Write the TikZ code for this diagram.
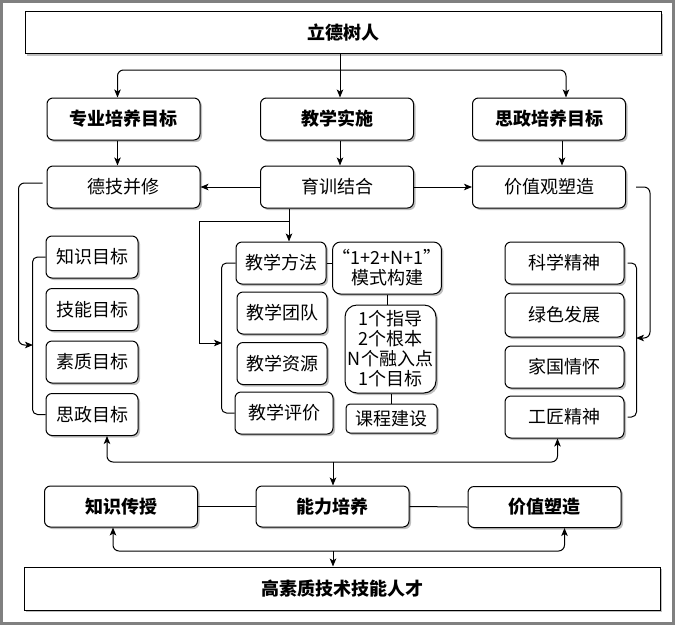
\documentclass[tikz,border=0pt]{standalone}
\usepackage{fontspec}
\setmainfont{Noto Sans CJK SC}
\usetikzlibrary{arrows.meta,shadows}
\tikzset{
  box/.style={draw, line width=1pt, fill=white, rounded corners=6pt, inner sep=0pt, align=center,
    drop shadow={shadow xshift=2pt, shadow yshift=-2pt, fill=black!25, opacity=1}},
  widebox/.style={box, rounded corners=0pt, font=\fontsize{18}{20}\selectfont\bfseries, minimum width=636pt, minimum height=42pt},
  headbox/.style={box, font=\fontsize{18}{20}\selectfont\bfseries, minimum width=153pt, minimum height=42pt},
  midbox/.style={box, minimum width=153pt, minimum height=42pt},
  itembox/.style={box, minimum height=42pt},
  link/.style={line width=1pt},
  arrowlink/.style={link, -{Stealth[length=8pt, width=6.5pt, inset=2pt]}},
  dblarrow/.style={link, {Stealth[length=8pt, width=6.5pt, inset=2pt]}-{Stealth[length=8pt, width=6.5pt, inset=2pt]}},
}
\begin{document}
\begin{tikzpicture}[x=1pt, y=-1pt, font=\fontsize{18}{20}\selectfont]
  \useasboundingbox (0,0) rectangle (675,625);
  {
  % Drawing outer frame
  \draw [line width=3pt, draw=black!50] (1.5,1.5) rectangle (673.5,623.5);%

  % Drawing top and heading row
  \node [widebox] (ldsr) at (343,32.5) {立德树人};%
  \node [headbox] (zypy) at (123.5,119) {专业培养目标};%
  \node [headbox] (jxss) at (337,119) {教学实施};%
  \node [headbox] (szpy) at (549,119) {思政培养目标};%

  % Drawing second row
  \node [midbox] (djbx) at (123.5,187) {德技并修};%
  \node [midbox] (yxjh) at (337,187) {育训结合};%
  \node [midbox] (jzgsz) at (549,187) {价值观塑造};%

  % Drawing left column
  \node [itembox, minimum width=92pt] (zsmb) at (92,257) {知识目标};%
  \node [itembox, minimum width=92pt] (jnmb) at (92,309.5) {技能目标};%
  \node [itembox, minimum width=92pt] (szmb) at (92,362) {素质目标};%
  \node [itembox, minimum width=92pt] (szmb2) at (92,414.5) {思政目标};%

  % Drawing middle column
  \node [itembox, minimum width=90pt] (jxff) at (281,263) {教学方法};%
  \node [itembox, minimum width=90pt] (jxtd) at (282,313) {教学团队};%
  \node [itembox, minimum width=90pt] (jxzy) at (282,363.5) {教学资源};%
  \node [itembox, minimum width=98pt] (jxpj) at (284,413) {教学评价};%
  \node [box, minimum width=90pt, minimum height=52pt, rounded corners=8pt] (mszj) at (387,268) {“1+2+N+1”\\模式构建};%
  \node [box, minimum width=91pt, minimum height=88pt, rounded corners=12pt] (zdbox) at (390.5,349) {1个指导\\2个根本\\N个融入点\\1个目标};%
  \node [box, minimum width=91pt, minimum height=29pt, rounded corners=4pt] (kcjs) at (391.5,418.5) {课程建设};%

  % Drawing right column
  \node [itembox, minimum width=119pt] (kxjs) at (564.5,263) {科学精神};%
  \node [itembox, minimum width=119pt, minimum height=44pt] (lsfz) at (564.5,315) {绿色发展};%
  \node [itembox, minimum width=119pt] (jgqh) at (564.5,367) {家国情怀};%
  \node [itembox, minimum width=119pt] (gjjs) at (564.5,417) {工匠精神};%

  % Drawing outcome rows
  \node [headbox, minimum height=41pt] (zscs) at (121,506.5) {知识传授};%
  \node [headbox, minimum height=41pt] (nlpy) at (332.5,506.5) {能力培养};%
  \node [headbox, minimum height=41pt] (jzsz) at (544.5,507) {价值塑造};%
  \node [widebox, minimum height=43pt] (gzrc) at (342,588.5) {高素质技术技能人才};%

  % Drawing top branches
  \coordinate (topsplit) at (340,70);
  \draw [arrowlink] (ldsr.south -| topsplit) -- ([xshift=3pt]jxss.north);%
  \draw [arrowlink, rounded corners=6pt] (topsplit) -| ([xshift=-6pt]zypy.north);%
  \draw [arrowlink, rounded corners=6pt] (topsplit) -| ([xshift=17pt]szpy.north);%
  \draw [arrowlink] ([xshift=-6pt]zypy.south) -- ([xshift=-6pt]djbx.north);%
  \draw [arrowlink] ([xshift=3pt]jxss.south) -- ([xshift=3pt]yxjh.north);%
  \draw [arrowlink] ([xshift=13pt]szpy.south) -- ([xshift=13pt]jzgsz.north);%
  \draw [arrowlink] (yxjh.west) -- (djbx.east);%
  \draw [arrowlink] (yxjh.east) -- (jzgsz.west);%

  % Drawing left bracket
  \coordinate (lbr) at (33,345);
  \draw [link, rounded corners=5pt] (zsmb.west) -- ++(-13,0) |- (szmb2.west);%
  \draw [arrowlink, rounded corners=6pt] ([xshift=-4pt, yshift=4pt]djbx.west) -- ++(-24,0) |- (lbr);%

  % Drawing middle bracket
  \coordinate (mbr) at (222,343);
  \draw [link, rounded corners=5pt] (jxff.west) -- ++(-14,0) |- (jxpj.west);%
  \draw [arrowlink] ([xshift=-48pt]yxjh.south) -- ([xshift=8pt]jxff.north);%
  \draw [arrowlink] ([xshift=-48pt, yshift=-13pt]yxjh.south) -- ++(-90,0) |- (mbr);%
  \draw [link] (jxff.east) -- (jxff.east -| mszj.west);%
  \draw [link] (mszj.south) -- (mszj.south |- zdbox.north);%
  \draw [link] ([xshift=1pt]zdbox.south) -- ([xshift=1pt]zdbox.south |- kcjs.north);%

  % Drawing right bracket
  \coordinate (rbr) at (636,338);
  \draw [link, rounded corners=5pt] ([xshift=3pt]kxjs.east) -- ++(9,0) |- ([xshift=3pt]gjjs.east);%
  \draw [arrowlink, rounded corners=6pt] ([xshift=10pt]jzgsz.east) -- ++(14,0) |- (rbr);%

  % Drawing lower branches
  \coordinate (bsplit1) at (333,462);
  \draw [arrowlink] (bsplit1) -- (bsplit1 |- nlpy.north);%
  \draw [dblarrow, rounded corners=6pt] ([xshift=15pt]szmb2.south) |- (bsplit1) -| ([xshift=-7pt]gjjs.south);%
  \draw [link] (zscs.east) -- (nlpy.west);%
  \draw [link] (nlpy.east) -- (jzsz.west);%
  \coordinate (bsplit2) at (333,551);
  \draw [arrowlink] (bsplit2) -- (bsplit2 |- gzrc.north);%
  \draw [dblarrow, rounded corners=6pt] ([xshift=-8pt]zscs.south) |- (bsplit2) -| ([xshift=20pt]jzsz.south);%
  }
\end{tikzpicture}
\end{document}
